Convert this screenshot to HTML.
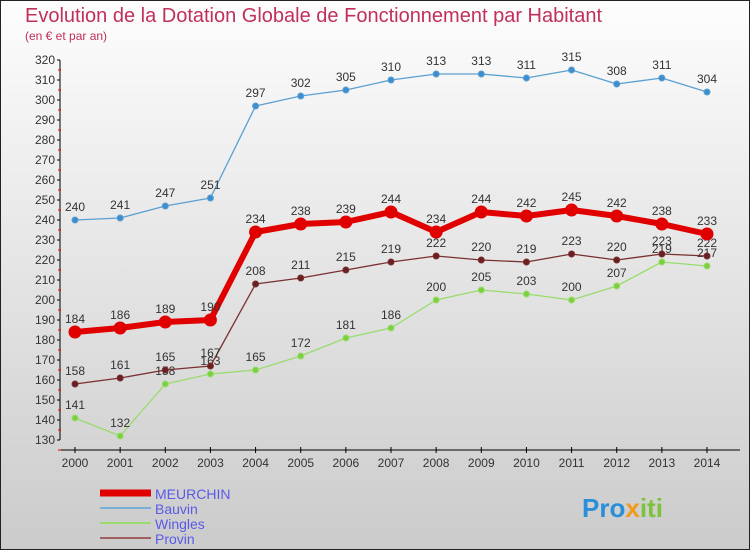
<!DOCTYPE html>
<html><head><meta charset="utf-8"><style>
body{margin:0;width:750px;height:550px;overflow:hidden;font-family:"Liberation Sans",sans-serif}
svg text{font-family:"Liberation Sans",sans-serif}
</style></head><body>
<svg id="c" width="750" height="550">
<defs><linearGradient id="bg" x1="0" y1="0" x2="0" y2="1"><stop offset="0" stop-color="#fdfdfd"/><stop offset="1" stop-color="#cbcbcb"/></linearGradient></defs>
<rect x="0.5" y="0.5" width="749" height="549" fill="url(#bg)" stroke="#222"/>
<text x="25" y="22" font-size="20" fill="#c0305a">Evolution de la Dotation Globale de Fonctionnement par Habitant</text>
<text x="25" y="40" font-size="12" fill="#c0305a">(en € et par an)</text>
<g id="axes"></g><g id="series"></g><g id="legend"></g>
<text x="582" y="517" font-size="26" font-weight="bold" fill="#2a8fd8">Pro<tspan fill="#f29a1a">x</tspan><tspan fill="#7cc23a">iti</tspan></text>
</svg>
<script>
const years=[2000,2001,2002,2003,2004,2005,2006,2007,2008,2009,2010,2011,2012,2013,2014];
const meurchin=[184,186,189,190,234,238,239,244,234,244,242,245,242,238,233];
const bauvin=[240,241,247,251,297,302,305,310,313,313,311,315,308,311,304];
const wingles=[141,132,158,163,165,172,181,186,200,205,203,200,207,219,217];
const provin=[158,161,165,167,208,211,215,219,222,220,219,223,220,223,222];
const yTicks=[130,140,150,160,170,180,190,200,210,220,230,240,250,260,270,280,290,300,310,320];
const NS="http://www.w3.org/2000/svg";
const xs=i=>75+i*(707-75)/14;
const ys=v=>440-(v-130)*2;
function mk(t,a,p){const e=document.createElementNS(NS,t);for(const k in a)e.setAttribute(k,a[k]);(p||document.getElementById('c')).appendChild(e);return e;}
const ax=document.getElementById('axes');
let yl=mk('line',{x1:60,y1:60,x2:60,y2:440,stroke:'#000'},ax);


let xl=mk('line',{x1:60,y1:450,x2:740,y2:450,stroke:'#000'},ax);


yTicks.forEach(v=>{
 mk('line',{x1:57,y1:ys(v),x2:60,y2:ys(v),stroke:'#000'},ax);
 mk('line',{x1:58,y1:ys(v)+10,x2:61,y2:ys(v)+10,stroke:'#e00'},ax);
 const t=mk('text',{x:55,y:ys(v)+4,'text-anchor':'end','font-size':12,fill:'#333'},ax);
 
 
 t.textContent=v;
});
years.forEach((y,i)=>{
 mk('line',{x1:xs(i),y1:447,x2:xs(i),y2:453,stroke:'#000'},ax);
 const t=mk('text',{x:xs(i),y:467,'text-anchor':'middle','font-size':12,fill:'#333'},ax);
 
 
 t.textContent=y;
});
const sg=document.getElementById('series');
function series(name,data,color,w,r,dot){
 const g=mk('g',{},sg);
 
 
 mk('polyline',{points:data.map((v,i)=>xs(i)+','+ys(v)).join(' '),fill:'none',stroke:color,'stroke-width':w,'stroke-linejoin':'round'},g);
 data.forEach((v,i)=>{
  const c=mk('circle',{cx:xs(i),cy:ys(v),r:r,fill:dot,stroke:color,'stroke-width':1},g);
  
  
  const t=mk('text',{x:xs(i),y:ys(v)-9,'text-anchor':'middle','font-size':12,fill:'#333'},g);
  
  
  t.textContent=v;
 });
}
series('bauvin',bauvin,'#5b9fd0',1.3,3,'#3d8ed0');
series('wingles',wingles,'#98dc6c',1.3,3,'#7cd040');
series('provin',provin,'#7a3030',1.3,3,'#6a2020');
series('meurchin',meurchin,'#e00000',6,6,'#e00000');
const lg=document.getElementById('legend');
[['MEURCHIN','#e00000',7],['Bauvin','#7ab0d8',2],['Wingles','#98dc6c',2],['Provin','#a06060',2]].forEach((d,i)=>{
 const y=493+i*15;
 const g=mk('g',{},lg);
 
 
 mk('line',{x1:100,y1:y,x2:151,y2:y,stroke:d[1],'stroke-width':d[2]},g);
 const t=mk('text',{x:155,y:y+6,'font-size':14,fill:'#5a5ae8'},g);
 t.textContent=d[0];
});
</script>
</body></html>
